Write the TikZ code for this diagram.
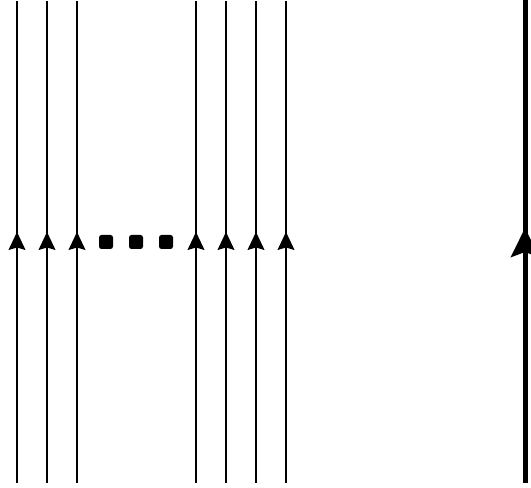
\documentclass[tikz,border=0pt]{standalone}
\usetikzlibrary{arrows.meta}

\begin{document}
\begin{tikzpicture}[
    x=1pt, y=1pt,
    strand/.style={line width=1.2pt, black},
    heavy/.style={line width=5pt, black},
    uparrow/.style={-{Stealth[length=18pt,width=17pt,inset=2.5pt]}},
    bigarrow/.style={-{Stealth[length=29pt,width=28pt,inset=5pt]}},
    dot/.style={rectangle, rounded corners=2.5pt, fill=black, minimum size=14pt, inner sep=0pt}
]
\useasboundingbox (0,0) rectangle (531,488);

% Thin strands
\foreach \name/\x in {a/17, b/47, c/77, d/196, e/226, f/256, g/286} {
  \coordinate (\name bot) at (\x,5);
  \coordinate (\name mid) at (\x,256);
  \coordinate (\name top) at (\x,487);
  \draw[strand] (\name bot) -- (\name top);
  \draw[strand, uparrow] (\name bot) -- (\name mid);
}

% Dots
\node[dot] (dot1) at (106,246) {};
\node[dot] (dot2) at (136,246) {};
\node[dot] (dot3) at (166,246) {};

% Thick strand
\coordinate (hbot) at (525,5);
\coordinate (hmid) at (525,260);
\coordinate (htop) at (525,488);
\draw[heavy] (hbot) -- (htop);
\draw[heavy, bigarrow] (hbot) -- (hmid);

\end{tikzpicture}
\end{document}
